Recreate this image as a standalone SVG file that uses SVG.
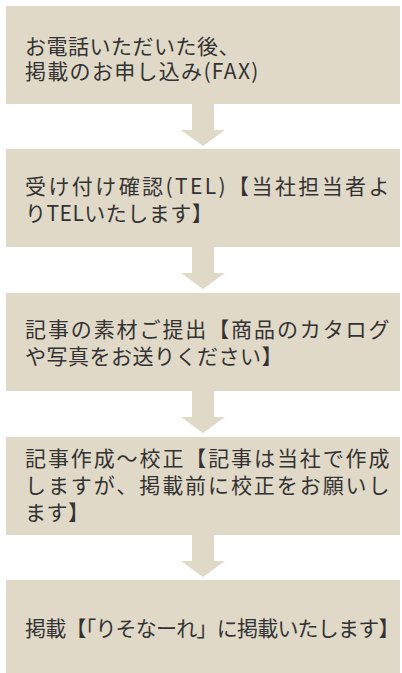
<svg xmlns="http://www.w3.org/2000/svg" width="402" height="673" viewBox="0 0 402 673">
<style>
.box{fill:#e0d9c7}
.arr{fill:#e0d9c7}
.t{font-family:"Noto Sans CJK JP","Noto Sans CJK SC",sans-serif;font-size:21px;fill:#333;letter-spacing:0.5px}
</style>
<rect width="402" height="673" fill="#ffffff"/>
<g id="connectors">
<path class="arr" d="M192,104 H214 V130 H225 L203,146 L181,130 H192 Z"/>
<path class="arr" d="M192,247 H214 V273 H225 L203,289 L181,273 H192 Z"/>
<path class="arr" d="M192,391 H214 V417 H225 L203,433 L181,417 H192 Z"/>
<path class="arr" d="M192,535 H214 V561 H225 L203,577 L181,561 H192 Z"/>
</g>
<g id="node1">
<rect class="box" x="6" y="6" width="394" height="98"/>
<text class="t"><tspan x="25" y="54">お電話いただいた後、</tspan><tspan x="25" y="79" style="letter-spacing:1.3px">掲載のお申し込み(FAX)</tspan></text>
</g>
<g id="node2">
<rect class="box" x="6" y="149" width="394" height="98"/>
<text class="t"><tspan x="25" y="193.5" textLength="365" lengthAdjust="spacing">受け付け確認(TEL)【当社担当者よ</tspan><tspan x="25" y="220.5">りTELいたします】</tspan></text>
</g>
<g id="node3">
<rect class="box" x="6" y="293" width="394" height="98"/>
<text class="t"><tspan x="25" y="336.5" textLength="365" lengthAdjust="spacing">記事の素材ご提出【商品のカタログ</tspan><tspan x="25" y="363.5">や写真をお送りください】</tspan></text>
</g>
<g id="node4">
<rect class="box" x="6" y="437" width="394" height="98"/>
<text class="t"><tspan x="25" y="465.5" textLength="365" lengthAdjust="spacing">記事作成〜校正【記事は当社で作成</tspan><tspan x="25" y="492.5" textLength="365" lengthAdjust="spacing">しますが、掲載前に校正をお願いし</tspan><tspan x="25" y="519.5">ます】</tspan></text>
</g>
<g id="node5">
<rect class="box" x="6" y="580" width="394" height="98"/>
<text class="t" x="25" y="635.5" textLength="375" lengthAdjust="spacing">掲載【「りそなーれ」に掲載いたします】</text>
</g>
</svg>
